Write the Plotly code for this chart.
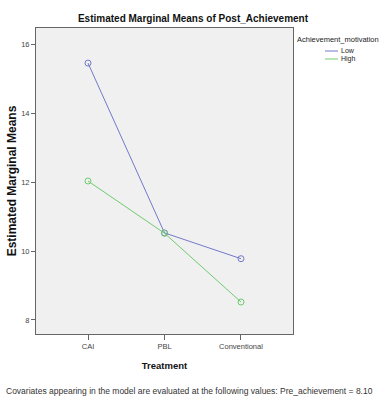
import plotly.graph_objects as go

treatments = ["CAI", "PBL", "Conventional"]
low_means = [15.47, 10.53, 9.78]
high_means = [12.04, 10.52, 8.52]
y_ticks = [8, 10, 12, 14, 16]
series = [("Low", low_means, "#7279CB"), ("High", high_means, "#6FCB6F")]
legend_title = "Achievement_motivation"

FONT = "Liberation Sans, Arial, sans-serif"

L, R, T, B = 36, 293, 28, 334
W, H = 382, 399

fig = go.Figure()
for name, vals, col in series:
    fig.add_trace(go.Scatter(
        x=treatments, y=vals, name=name, mode="lines+markers",
        line=dict(color=col, width=1),
        marker=dict(symbol="circle-open", size=6, color=col, line=dict(width=1)),
    ))

def px_x(x):
    return (x - L) / (R - L)

def px_y(y):
    return (B - y) / (B - T)

fig.update_layout(
    width=W, height=H,
    margin=dict(l=L, r=W - R, t=T, b=H - B, autoexpand=False),
    paper_bgcolor="white", plot_bgcolor="#F0F0F0",
    font=dict(family=FONT, color="#222"),
    title=dict(text="<b>Estimated Marginal Means of Post_Achievement</b>",
               x=193 / W, xanchor="center", y=1 - 18 / H, yanchor="middle",
               font=dict(family=FONT, size=10, color="#111")),
    showlegend=False,
    hovermode=False,
    xaxis=dict(
        type="category", range=[-0.68, 2.68], automargin=False,
        showgrid=False, zeroline=False,
        showline=True, linecolor="#666", linewidth=1, mirror=True,
        ticks="outside", ticklen=5, tickcolor="#666",
        tickfont=dict(family=FONT, size=7.5, color="#444"),
        title=dict(text="<b>Treatment</b>", font=dict(family=FONT, size=9.5, color="#111"), standoff=12),
    ),
    yaxis=dict(
        range=[7.59, 16.49], tickvals=y_ticks, automargin=False,
        showgrid=False, zeroline=False,
        showline=True, linecolor="#666", linewidth=1, mirror=True,
        ticks="outside", ticklen=4, tickcolor="#666",
        tickfont=dict(family=FONT, size=7.5, color="#444"),
        title=dict(text="<b>Estimated Marginal Means</b>", font=dict(family=FONT, size=12, color="#111"), standoff=1),
    ),
)

# legend drawn by hand to mimic SPSS compact legend
fig.add_annotation(text=legend_title, xref="paper", yref="paper",
                   x=px_x(295), y=px_y(40), xanchor="left", yanchor="middle",
                   showarrow=False, font=dict(family=FONT, size=7.5, color="#222"))
for i, (name, vals, col) in enumerate(series):
    yy = 51 + 8 * i
    fig.add_shape(type="line", xref="paper", yref="paper",
                  x0=px_x(325), x1=px_x(338), y0=px_y(yy), y1=px_y(yy),
                  line=dict(color=col, width=1))
    fig.add_annotation(text=name, xref="paper", yref="paper",
                       x=px_x(339), y=px_y(yy), xanchor="left", yanchor="middle",
                       showarrow=False, font=dict(family=FONT, size=7, color="#222"))

fig.add_annotation(
    text="Covariates appearing in the model are evaluated at the following values: Pre_achievement = 8.10",
    xref="paper", yref="paper", x=px_x(189), y=px_y(391),
    xanchor="center", yanchor="middle", showarrow=False,
    font=dict(family=FONT, size=8.5, color="#333"),
)

fig.write_html("out.html", config={"displayModeBar": False, "staticPlot": True},
               post_script="document.body.style.margin='0';document.body.style.padding='0';")
